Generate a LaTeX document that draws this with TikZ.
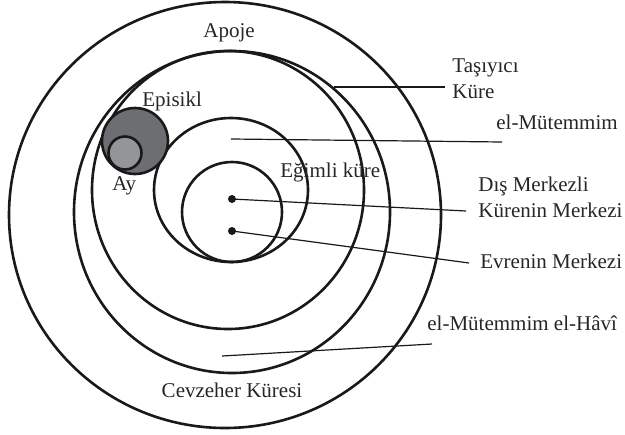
\documentclass[tikz,border=0pt]{standalone}
\usepackage{fontspec}
\setmainfont{Liberation Serif}
\definecolor{episiklgray}{HTML}{6D6E71}
\definecolor{aygray}{HTML}{939598}
\tikzset{
    sphere/.style = {draw=black!90, line width=1.3pt},
    leader/.style = {draw=black!90, line width=0.6pt},
    centerdot/.style = {circle, fill=black!90, inner sep=0pt, minimum size=4pt},
    lbl/.style = {inner sep=0pt, font=\fontsize{10.5}{12}\selectfont, text=black!85},
}

\begin{document}
\begin{tikzpicture}[x=0.5pt, y=-0.5pt]
\useasboundingbox (0,0) rectangle (625,434);

% Spheres
\draw[sphere] (225,215) ellipse [x radius=216, y radius=213];
\draw[sphere] (232,212) ellipse [x radius=158, y radius=161];
\draw[sphere] (228,190) ellipse [x radius=136, y radius=139];
\draw[sphere] (231,190) ellipse [x radius=77, y radius=72];
\draw[sphere] (232,212) circle [radius=50];

% Epicycle and moon
\draw[sphere, fill=episiklgray] (135,141) circle [radius=33];
\draw[sphere, fill=aygray] (125,153) circle [radius=16.5];

% Centres
\node (disdot) [centerdot] at (232,199) {};
\node (evrendot) [centerdot] at (232,231) {};

% Labels
\node (apoje) [lbl, anchor=base] at (229,37) {Apoje};
\node (tasiyici) [lbl, anchor=base west] at (452,72) {Taşıyıcı};
\node (kure) [lbl, anchor=base west] at (452,98) {Küre};
\node (episikl) [lbl, anchor=base west] at (142,106) {Episikl};
\node (mutemmim) [lbl, anchor=base west] at (496,129) {el-Mütemmim};
\node (egimli) [lbl, anchor=base west] at (280,177) {Eğimli küre};
\node (ay) [lbl, anchor=base west] at (112,190) {Ay};
\node (dis) [lbl, anchor=base west] at (478,191) {Dış Merkezli};
\node (kurenin) [lbl, anchor=base west] at (478,217) {Kürenin Merkezi};
\node (evren) [lbl, anchor=base west] at (480,268) {Evrenin Merkezi};
\node (havi) [lbl, anchor=base west] at (427,330) {el-Mütemmim el-Hâvî};
\node (cevzeher) [lbl, anchor=base] at (232,397) {Cevzeher Küresi};

% Leaders
\coordinate (tasiyiciStart) at (334,87);
\coordinate (mutemmimStart) at (231,139);
\coordinate (haviStart) at (222,356);
\draw[leader] (tasiyiciStart) -- ([shift={(-7,-11)}]kure.base west);
\draw[leader] (mutemmimStart) -- ([shift={(6,13)}]mutemmim.base west);
\draw[leader] (disdot.center) -- ([shift={(-12,-6)}]kurenin.base west);
\draw[leader] (evrendot.center) -- ([shift={(-11,-5)}]evren.base west);
\draw[leader] (haviStart) -- ([shift={(5,14)}]havi.base west);
\end{tikzpicture}
\end{document}
